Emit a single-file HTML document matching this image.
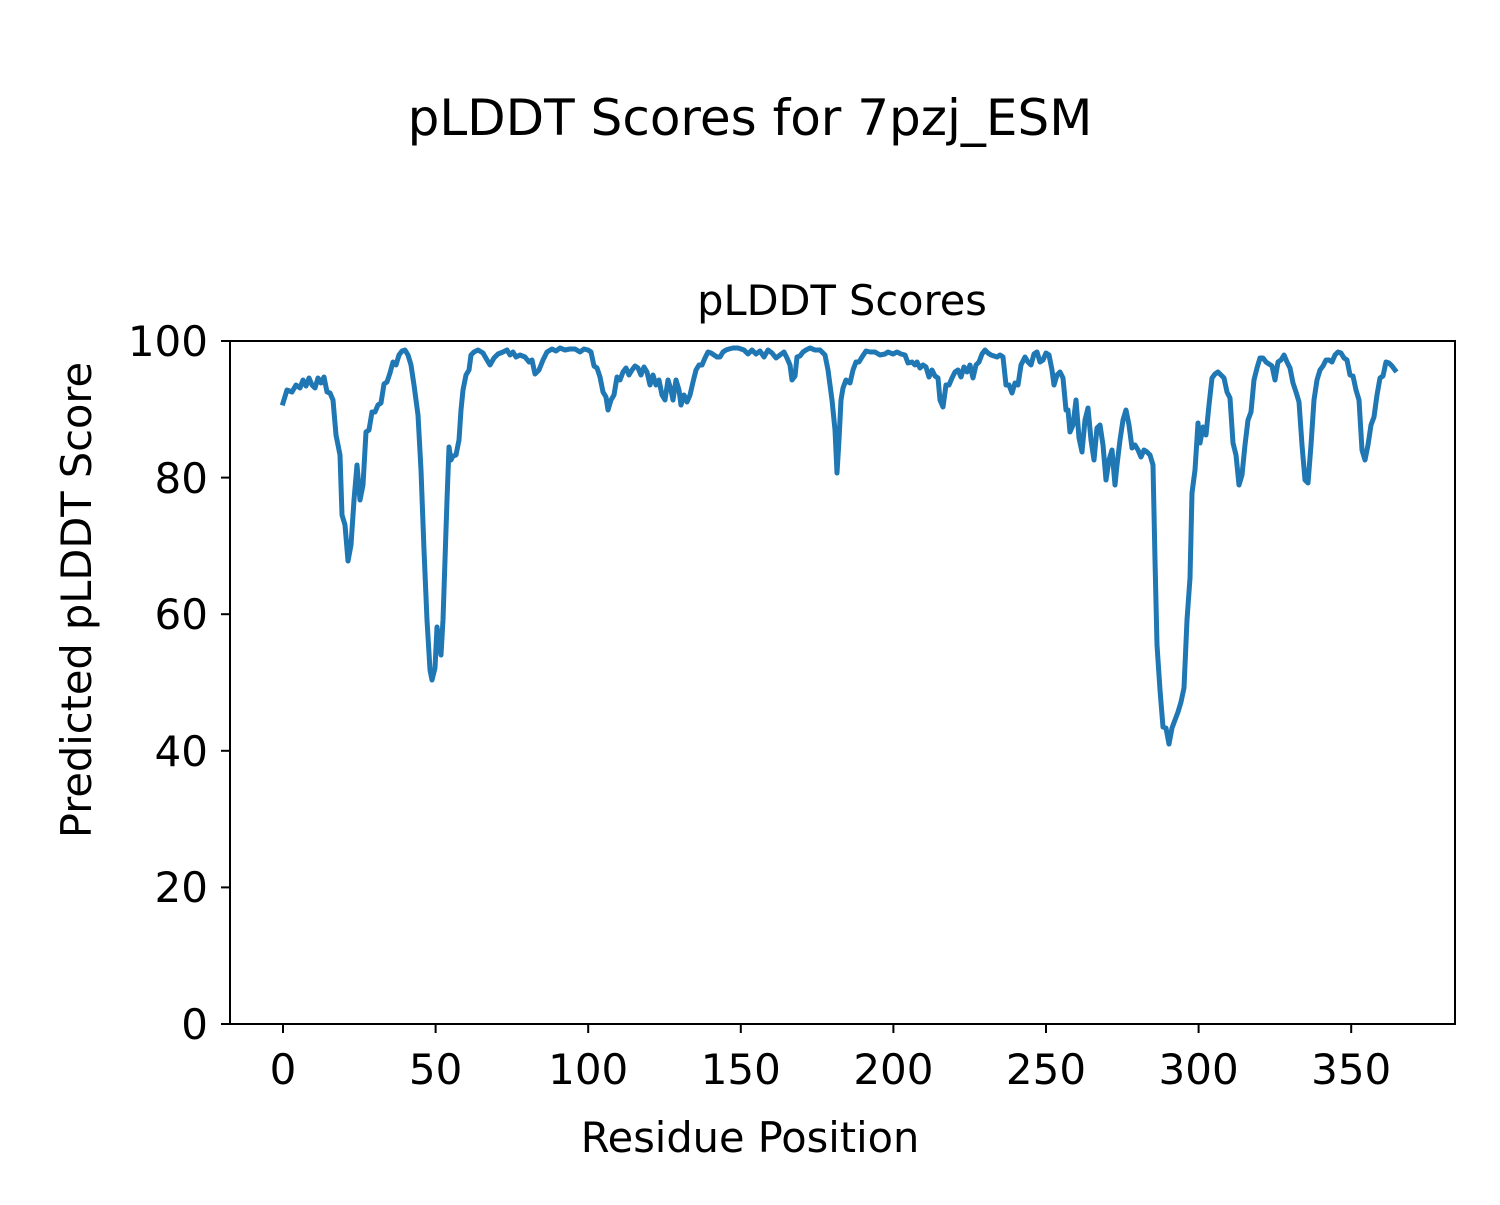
<!DOCTYPE html>
<html><head><meta charset="utf-8"><style>
html,body{margin:0;padding:0;background:#fff;}
svg text{font-family:"DejaVu Sans","Liberation Sans",sans-serif;fill:#000;}
</style></head><body>
<svg width="1500" height="1200" viewBox="0 0 1500 1200" xmlns="http://www.w3.org/2000/svg">
<rect width="1500" height="1200" fill="#fff"/>
<text x="750" y="135" font-size="50" text-anchor="middle">pLDDT Scores for 7pzj_ESM</text>
<text x="842" y="315" font-size="41.5" text-anchor="middle">pLDDT Scores</text>
<polyline fill="none" stroke="#1f77b4" stroke-width="5" stroke-linejoin="round" stroke-linecap="square" points="283,403 287,390 292,392 296,385 300,388 303,380 306,386 309,378 312,385 315,388 318,378 321,383 324,377 327,392 330,393 333,400 336,435 340,455 342,515 345,525 348,561 351,545 354,500 357,465 360,500 363,485 366,432 369,430 372,412 375,412 378,405 381,403 384,384 387,382 390,373 393,362 396,365 399,355 402,351 405,350 408,355 411,365 414,385 418,415 421,470 424,550 427,620 430,670 432,680 435,668 437,627 439,640 441,655 443,620 445,560 447,500 449,447 451,460 453,456 456,455 459,440 461,410 463,390 466,375 469,370 471,355 474,352 478,350 483,353 487,360 490,365 494,358 498,354 503,352 507,350 510,355 513,352 516,357 520,355 525,357 529,362 532,360 535,374 539,370 543,360 547,352 552,349 556,351 560,348 565,350 570,349 575,349 580,352 584,349 588,350 591,352 594,366 597,368 600,377 603,392 606,397 608,410 611,400 614,395 617,377 620,380 623,372 626,368 629,375 632,370 635,366 638,368 641,375 644,367 647,372 650,385 653,375 656,385 659,380 662,395 665,400 668,380 671,390 673,400 676,380 679,390 681,405 684,395 687,402 690,395 693,382 696,370 699,365 702,365 705,358 708,352 711,353 714,355 717,357 720,357 723,352 726,350 729,349 733,348 738,348 744,350 748,354 752,350 756,354 760,351 764,357 768,350 772,353 776,358 780,355 784,352 787,358 790,365 792,380 795,376 797,357 800,356 803,352 806,350 810,348 815,350 820,350 825,355 828,370 832,400 835,430 837,473 839,440 841,400 843,388 846,380 850,383 853,370 856,362 859,362 862,357 866,351 870,352 875,352 880,355 885,354 888,352 893,354 897,352 901,354 905,355 908,363 912,362 915,365 917,362 920,368 923,365 926,367 929,377 932,370 935,376 938,378 940,400 943,407 946,385 949,385 952,378 955,372 958,370 961,377 964,367 967,372 970,365 973,378 976,365 979,362 982,354 985,350 988,353 991,355 994,356 997,357 1000,355 1003,357 1006,385 1009,385 1012,393 1015,383 1018,385 1021,365 1025,357 1028,362 1031,365 1034,354 1037,352 1040,362 1043,360 1046,353 1049,355 1052,370 1054,385 1057,375 1060,372 1063,378 1066,410 1068,410 1070,432 1073,425 1076,400 1079,438 1082,452 1085,420 1088,408 1091,440 1094,460 1097,428 1100,425 1103,445 1106,480 1109,460 1112,450 1115,485 1117,465 1120,440 1123,420 1126,410 1129,425 1132,448 1135,445 1138,450 1141,457 1144,450 1147,452 1150,455 1153,465 1155,560 1157,645 1160,690 1163,727 1166,728 1169,744 1172,728 1175,720 1178,712 1181,702 1184,688 1187,620 1190,578 1192,493 1195,470 1198,423 1200,443 1203,427 1206,435 1209,405 1212,378 1215,374 1218,372 1221,375 1224,378 1227,392 1230,398 1233,443 1236,455 1239,485 1242,475 1245,445 1248,420 1251,412 1254,380 1257,368 1260,358 1263,358 1266,362 1269,364 1272,366 1275,380 1278,362 1281,360 1284,355 1287,362 1290,368 1293,383 1296,392 1299,402 1302,445 1305,480 1308,483 1311,445 1314,400 1317,380 1320,370 1323,366 1326,360 1329,360 1332,362 1335,355 1338,352 1341,353 1344,358 1347,360 1350,375 1353,376 1356,390 1359,400 1362,450 1365,460 1368,445 1371,425 1374,417 1377,395 1380,378 1383,376 1386,362 1389,363 1392,366 1395,370"/>
<rect x="230" y="341" width="1225" height="683" fill="none" stroke="#000" stroke-width="2"/>
<g stroke="#000" stroke-width="2">
<line x1="283" y1="1024" x2="283" y2="1033"/><line x1="435.6" y1="1024" x2="435.6" y2="1033"/><line x1="588.2" y1="1024" x2="588.2" y2="1033"/><line x1="740.8" y1="1024" x2="740.8" y2="1033"/><line x1="893.4" y1="1024" x2="893.4" y2="1033"/><line x1="1046" y1="1024" x2="1046" y2="1033"/><line x1="1198.6" y1="1024" x2="1198.6" y2="1033"/><line x1="1351.2" y1="1024" x2="1351.2" y2="1033"/>
<line x1="221" y1="1024" x2="230" y2="1024"/><line x1="221" y1="887.4" x2="230" y2="887.4"/><line x1="221" y1="750.8" x2="230" y2="750.8"/><line x1="221" y1="614.2" x2="230" y2="614.2"/><line x1="221" y1="477.6" x2="230" y2="477.6"/><line x1="221" y1="341" x2="230" y2="341"/>
</g>
<g font-size="42" text-anchor="middle">
<text x="283" y="1084">0</text><text x="435.6" y="1084">50</text><text x="588.2" y="1084">100</text><text x="740.8" y="1084">150</text><text x="893.4" y="1084">200</text><text x="1046" y="1084">250</text><text x="1198.6" y="1084">300</text><text x="1351.2" y="1084">350</text>
</g>
<g font-size="42" text-anchor="end">
<text x="208" y="1039">0</text><text x="208" y="902">20</text><text x="208" y="766">40</text><text x="208" y="629">60</text><text x="208" y="493">80</text><text x="208" y="356">100</text>
</g>
<text x="750" y="1152" font-size="41.5" text-anchor="middle">Residue Position</text>
<text transform="translate(91,600) rotate(-90)" font-size="41.5" text-anchor="middle">Predicted pLDDT Score</text>
</svg>
</body></html>
